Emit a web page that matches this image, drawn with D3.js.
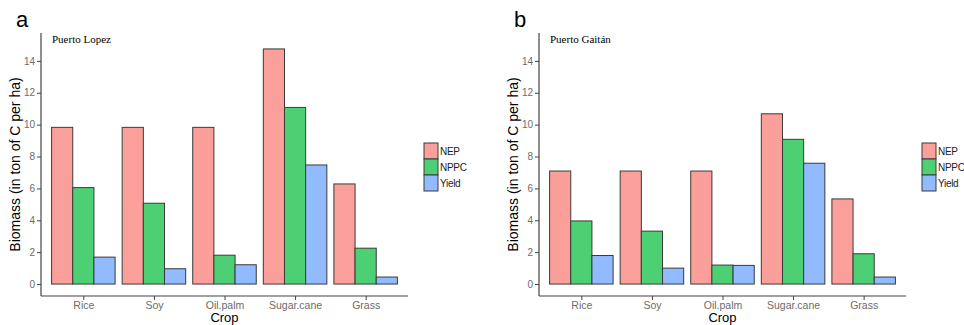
<!DOCTYPE html>
<html>
<head>
<meta charset="utf-8">
<script src="https://cdn.jsdelivr.net/npm/d3@7"></script>
<style>
  body { margin: 0; background: #fff; }
  svg { display: block; }
</style>
</head>
<body>
<svg id="chart" width="964" height="325"></svg>
<script>
const crops = ["Rice", "Soy", "Oil.palm", "Sugar.cane", "Grass"];
const seriesNames = ["NEP", "NPPC", "Yield"];
const yTicks = [0, 2, 4, 6, 8, 10, 12, 14];

const lopezNEP = [9.83, 9.83, 9.83, 14.75, 6.28];
const lopezNPPC = [6.05, 5.07, 1.81, 11.08, 2.25];
const lopezYield = [1.69, 0.96, 1.21, 7.47, 0.44];

const gaitanNEP = [7.09, 7.09, 7.09, 10.68, 5.34];
const gaitanNPPC = [3.96, 3.32, 1.19, 9.08, 1.9];
const gaitanYield = [1.79, 1.0, 1.17, 7.58, 0.44];

const panels = [
    { letter: "a", place: "Puerto Lopez", left: 41, values: [lopezNEP, lopezNPPC, lopezYield] },
    { letter: "b", place: "Puerto Gaitán", left: 539, values: [gaitanNEP, gaitanNPPC, gaitanYield] }
];

const colors = ["#fa9f99", "#4dcf74", "#91baff"];
const plotW = 367, plotTop = 33, plotBottom = 296;

const svg = d3.select("#chart");

panels.forEach((p) => {
    const g = svg.append("g").attr("transform", `translate(${p.left},0)`);

    // ggplot-like discrete expansion: 0.6 units each side
    const x = d3.scaleLinear().domain([0.4, 5.6]).range([0, plotW]);
    const y = d3.scaleLinear().domain([-0.75, 15.75]).range([plotBottom, plotTop]);
    const sub = d3.scaleBand().domain(seriesNames).range([-0.45, 0.45]);

    const rows = [];
    crops.forEach((c, i) => {
        seriesNames.forEach((s, j) => {
            rows.push({ crop: c, i: i + 1, series: s, j, value: p.values[j][i] });
        });
    });

    g.selectAll("rect.bar")
        .data(rows)
        .enter()
        .append("rect")
        .attr("class", "bar")
        .attr("x", (d) => x(d.i + sub(d.series)))
        .attr("width", x(sub.bandwidth()) - x(0))
        .attr("y", (d) => y(d.value))
        .attr("height", (d) => y(0) - y(d.value))
        .attr("fill", (d) => colors[d.j])
        .attr("stroke", "#3a3a3a")
        .attr("stroke-width", 1);

    // y axis
    const yAxis = d3.axisLeft(y).tickValues(yTicks).tickSize(4).tickPadding(2);
    const ya = g.append("g").call(yAxis);
    ya.select(".domain").attr("d", `M0,${plotTop}V${plotBottom}`).attr("stroke", "#444").attr("stroke-width", 1.2);
    ya.selectAll(".tick line").attr("stroke", "#444");
    ya.selectAll(".tick text")
        .attr("fill", "#6b6b6b")
        .style("font-family", "Liberation Sans, Arial, sans-serif")
        .style("font-size", "10px");

    // x axis
    const xAxis = d3.axisBottom(x).tickValues([1, 2, 3, 4, 5])
        .tickFormat((d) => crops[d - 1]).tickSize(4).tickPadding(2);
    const xa = g.append("g").attr("transform", `translate(0,${plotBottom})`).call(xAxis);
    xa.select(".domain").attr("d", `M0,0H${plotW}`).attr("stroke", "#444").attr("stroke-width", 1.2);
    xa.selectAll(".tick line").attr("stroke", "#444");
    xa.selectAll(".tick text")
        .attr("fill", "#6b6b6b")
        .style("font-family", "Liberation Sans, Arial, sans-serif")
        .style("font-size", "10.5px");

    // axis titles
    g.append("text")
        .attr("transform", `translate(-21,${(plotTop + plotBottom) / 2}) rotate(-90)`)
        .attr("text-anchor", "middle")
        .style("font-family", "Liberation Sans, Arial, sans-serif")
        .style("font-size", "14px")
        .text("Biomass (in ton of C per ha)");

    g.append("text")
        .attr("x", plotW / 2)
        .attr("y", 322)
        .attr("text-anchor", "middle")
        .style("font-family", "Liberation Sans, Arial, sans-serif")
        .style("font-size", "13px")
        .text("Crop");

    // panel letter and place
    g.append("text")
        .attr("x", -25)
        .attr("y", 27)
        .style("font-family", "Liberation Sans, Arial, sans-serif")
        .style("font-size", "22px")
        .text(p.letter);

    g.append("text")
        .attr("x", 11)
        .attr("y", 43)
        .style("font-family", "Liberation Serif, Times New Roman, serif")
        .style("font-size", "11px")
        .text(p.place);

    // legend
    const lg = g.append("g").attr("transform", `translate(${plotW + 16},143)`);
    const keys = lg.selectAll("g").data(seriesNames).enter().append("g")
        .attr("transform", (d, i) => `translate(0,${i * 16})`);
    keys.append("rect")
        .attr("width", 14).attr("height", 16)
        .attr("fill", (d, i) => colors[i])
        .attr("stroke", "#3a3a3a").attr("stroke-width", 1);
    keys.append("text")
        .attr("x", 16).attr("y", 12)
        .style("font-family", "Liberation Sans, Arial, sans-serif")
        .style("font-size", "10px")
        .style("letter-spacing", "-0.3px")
        .attr("fill", "#222")
        .text((d) => d);
});
</script>
</body>
</html>
